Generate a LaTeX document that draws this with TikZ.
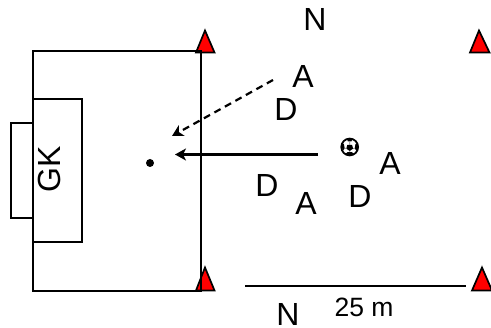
\documentclass[tikz,border=0pt]{standalone}
\usepackage{fontspec}
\setmainfont{Liberation Sans}
\usetikzlibrary{arrows.meta}
\tikzset{
  pitch/.style={draw=black,line width=2pt},
  cone/.style={draw=black,fill=red,line width=1.7pt,line join=miter},
  lab/.style={anchor=base,inner sep=0pt,font=\fontsize{32}{32}\selectfont},
  small/.style={anchor=base,inner sep=0pt,font=\fontsize{26.5}{26.5}\selectfont},
  run/.style={line width=2.2pt,-{Stealth[length=11pt,width=12pt,inset=3pt]}},
}
\begin{document}
\begin{tikzpicture}[x=1pt,y=-1pt]
\useasboundingbox (0,0) rectangle (491,328);
\fill[white] (0,0) rectangle (491,328);
% cones
\draw[cone] (205,30.5) -- (214.5,52.5) -- (196,52.5) -- cycle;
\draw[cone] (479,30.5) -- (489.5,52.5) -- (470,52.5) -- cycle;
\draw[cone] (205,267.5) -- (214.5,290.5) -- (196,290.5) -- cycle;
\draw[cone] (482,267.5) -- (492,290.5) -- (472,290.5) -- cycle;
% pitch
\draw[pitch] (33,51) rectangle (200.7,290.7);
\draw[pitch] (33,98.7) rectangle (82,242.3);
\draw[pitch] (33,122.7) -- (10.5,122.7) -- (10.5,218.3) -- (33,218.3);
\draw[line width=1.8pt] (245,286.3) coordinate (la) -- (466,286.3) coordinate (lb);
% labels
\node[lab] (n1) at (315,30.5) {N};
\node[lab] (a1) at (303,88) {A};
\node[lab] (d1) at (286,120.7) {D};
\node[lab] (a2) at (390,175) {A};
\node[lab] (d2) at (267,196.7) {D};
\node[lab] (a3) at (306,214.7) {A};
\node[lab] (d3) at (360,208) {D};
\node[lab] (n2) at (288,326) {N};
\node[small] (m) at (364,317) {25 m};
\node[lab,rotate=90] (gk) at (60,169.5) {GK};
% target dot
\fill (150,163) circle (4);
\coordinate (t1) at (172,136);
\coordinate (s1) at (273,80);
\coordinate (t2) at (175,154.5);
\coordinate (s2) at (318,154.5);
\draw[run,dash pattern=on 7pt off 5pt] (s1) -- (t1);
\draw[run] (s2) -- (t2);
% ball
\begin{scope}[shift={(349.7,147)}]
\draw[line width=1.8pt,fill=white] (0,0) circle (8.4);
\fill (-2.4,-2) -- (2.4,-2) -- (3.4,1.6) -- (0,4) -- (-3.4,1.6) -- cycle;
\fill (-2.8,-8.2) -- (2.8,-8.2) -- (1.8,-5.6) -- (-1.8,-5.6) -- cycle;
\fill (-8.2,-3) -- (-5.8,-3) -- (-5,1.5) -- (-7,4) -- cycle;
\fill (8.2,-3) -- (5.8,-3) -- (5,1.5) -- (7,4) -- cycle;
\fill (-4.5,7) -- (-2.2,5.2) -- (2.2,5.2) -- (4.5,7) -- (0,8.4) -- cycle;
\draw[line width=.6pt,gray] (0,-5.6) -- (0,-2) (-5,1) -- (-3.4,1.6) (5,1) -- (3.4,1.6) (0,4) -- (0,5.2);
\end{scope}
\end{tikzpicture}
\end{document}
